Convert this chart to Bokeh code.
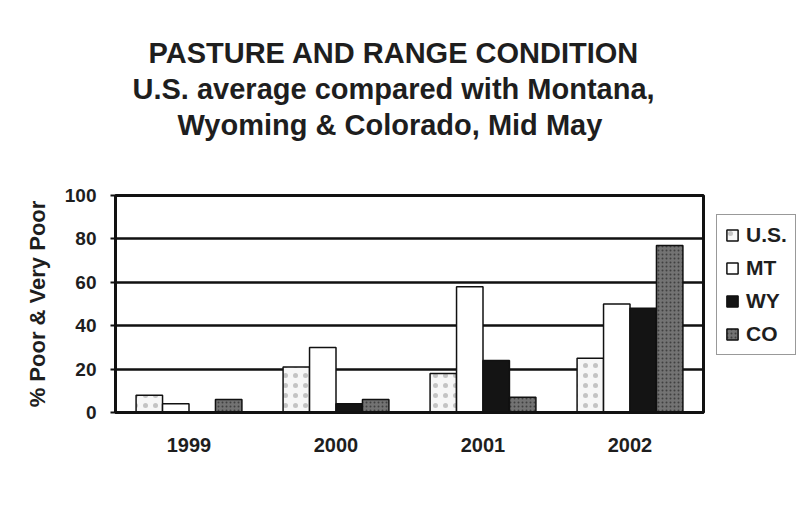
from bokeh.plotting import figure
from bokeh.models import ColumnDataSource, Legend, LegendItem, FactorRange, Title
from bokeh.transform import dodge
from bokeh.embed import file_html
from bokeh.resources import INLINE

years = ["1999", "2000", "2001", "2002"]
us = [8, 21, 18, 25]
mt = [4, 30, 58, 50]
wy = [0, 4, 24, 48]
co = [6, 6, 7, 77]
series_names = ["U.S.", "MT", "WY", "CO"]
y_ticks = [0, 20, 40, 60, 80, 100]
title_lines = ["PASTURE AND RANGE CONDITION",
               "U.S. average compared with  Montana,",
               "Wyoming & Colorado, Mid May"]

src = ColumnDataSource(dict(year=years, us=us, mt=mt, wy=wy, co=co))

FONT = "Liberation Sans"
TXT = "#1e1e1e"

p = figure(x_range=FactorRange(*years, range_padding=0), y_range=(0, 100),
           frame_width=588, frame_height=217, output_backend="svg", toolbar_location=None,
           min_border_left=115, min_border_right=96, min_border_top=195,
           min_border_bottom=117)
p.title.text = ""
p.background_fill_color = "white"
p.border_fill_color = "white"
p.outline_line_color = "#111111"
p.outline_line_width = 3

styles = [
    dict(col="us", fill_color="#f7f7f7", hatch_pattern=".", hatch_color="#c4c4c4", hatch_scale=10, hatch_weight=1),
    dict(col="mt", fill_color="#ffffff"),
    dict(col="wy", fill_color="#141414"),
    dict(col="co", fill_color="#737373", hatch_pattern=".", hatch_color="#404040", hatch_scale=4, hatch_weight=1),
]
offsets = [-0.27, -0.09, 0.09, 0.27]
items = []
for name, st, off in zip(series_names, styles, offsets):
    st = dict(st)
    col = st.pop("col")
    r = p.vbar(x=dodge("year", off, range=p.x_range), top=col, width=0.18, source=src,
               line_color="#111111", line_width=1.5, **st)
    items.append(LegendItem(label=name, renderers=[r]))

legend = Legend(items=items, location=(13, 57), orientation="vertical",
                label_text_font=FONT, label_text_font_style="bold", label_text_font_size="21px",
                label_text_color=TXT, glyph_width=14, glyph_height=14, label_standoff=7,
                spacing=9, padding=8, margin=0, border_line_color="#333333", border_line_width=1.5,
                background_fill_color="white", background_fill_alpha=1.0)
p.add_layout(legend, "right")

p.xgrid.grid_line_color = None
p.ygrid.grid_line_color = "#111111"
p.ygrid.grid_line_width = 2.5
p.yaxis.ticker = y_ticks
p.yaxis.axis_line_width = 3
p.yaxis.axis_line_color = "#111111"
p.yaxis.major_tick_line_color = "#111111"
p.yaxis.major_tick_line_width = 2
p.yaxis.major_tick_out = 5
p.yaxis.major_tick_in = 0
p.yaxis.minor_tick_line_color = None
p.yaxis.major_label_text_font = FONT
p.yaxis.major_label_text_font_style = "bold"
p.yaxis.major_label_text_font_size = "19px"
p.yaxis.major_label_text_color = TXT
p.yaxis.major_label_standoff = 14
p.yaxis.axis_label = "% Poor & Very Poor"
p.yaxis.axis_label_text_font = FONT
p.yaxis.axis_label_text_font_style = "bold"
p.yaxis.axis_label_text_font_size = "22px"
p.yaxis.axis_label_text_color = TXT
p.yaxis.axis_label_standoff = 12

p.xaxis.axis_line_width = 3
p.xaxis.axis_line_color = "#111111"
p.xaxis.major_tick_line_color = None
p.xaxis.minor_tick_line_color = None
p.xaxis.major_label_text_font = FONT
p.xaxis.major_label_text_font_style = "bold"
p.xaxis.major_label_text_font_size = "20px"
p.xaxis.major_label_text_color = TXT
p.xaxis.major_label_standoff = 19

# blank spacer nearest the frame, then the lines from the frame outward
p.add_layout(Title(text=" ", text_font_size="46px", standoff=0), "above")
left_offsets = [33, 17, 62]
for t, off in reversed(list(zip(title_lines, left_offsets))):
    p.add_layout(Title(text=t, align="left", offset=off, standoff=2,
                       text_font=FONT, text_font_style="bold", text_font_size="29px",
                       text_color=TXT), "above")

open("out.html", "w").write(file_html(p, INLINE))
